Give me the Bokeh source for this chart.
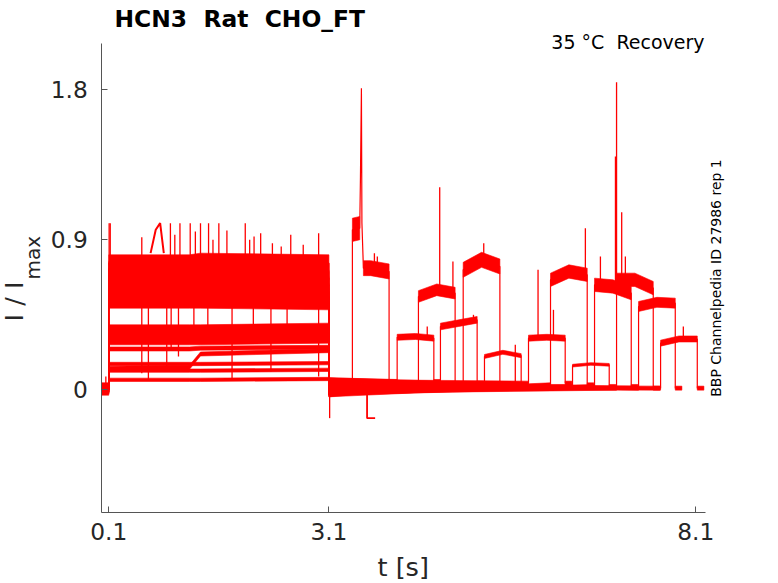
import math
from bokeh.plotting import figure
from bokeh.models import Label, Range1d, FixedTicker
from bokeh.embed import file_html
from bokeh.resources import INLINE

# ---------------- data ----------------
x_ticks = [0.1, 3.1, 8.1]
x_tick_labels = ["0.1", "3.1", "8.1"]
y_ticks = [0, 0.9, 1.8]
y_tick_labels = ["0", "0.9", "1.8"]
x_axis_span = [0.005, 8.228]
y_axis_span = [-0.738, 2.078]

# protocol times (s)
t_first = 0.005
pulse1_on = 0.1
pulse1_off = 3.1
p1_knots = [0.1, 1.2, 1.35, 3.1]
pulse2_on = [3.42, 3.72, 4.03, 4.32, 4.62, 4.93, 5.22, 5.52, 5.82, 6.12, 6.42, 6.72, 7.02, 7.32, 7.62]
pulse2_dur = 0.5
tail_dur = 0.09

# I/Imax levels per sweep
base0 = [0.00, 0.01, -0.01, 0.02, 0.00, -0.02, 0.01, 0.03, 0.00, 0.01, -0.01, 0.02, 0.00, 0.01, 0.02]
p1_a = [0.76, 0.72, 0.36, 0.68, 0.33, 0.64, 0.245, 0.115, 0.30, 0.60, 0.155, 0.57, 0.54, 0.13, 0.06]
p1_b = [0.76, 0.72, 0.36, 0.68, 0.33, 0.64, 0.245, 0.115, 0.30, 0.60, 0.155, 0.57, 0.54, 0.135, 0.06]
p1_c = [0.77, 0.72, 0.36, 0.68, 0.34, 0.64, 0.25, 0.115, 0.30, 0.60, 0.155, 0.57, 0.54, 0.215, 0.06]
p1_d = [0.76, 0.71, 0.37, 0.67, 0.34, 0.63, 0.255, 0.12, 0.31, 0.59, 0.16, 0.56, 0.53, 0.235, 0.065]
noise1 = [0.05, 0.05, 0.03, 0.05, 0.03, 0.05, 0.012, 0.01, 0.03, 0.05, 0.01, 0.05, 0.05, 0.012, 0.01]
b1_start = [-0.03, -0.02, 0.06, -0.03, 0.06, -0.02, 0.02, 0.01, 0.05, -0.03, 0.02, -0.02, -0.01, 0.03, 0.02]
b1_end = [0.00, 0.02, 0.05, 0.02, 0.04, 0.03, 0.03, 0.02, 0.04, 0.03, 0.02, 0.02, 0.01, 0.01, 0.01]
p2_a = [0.96, 0.02, 0.315, 0.56, 0.38, 0.72, 0.20, 0.02, 0.31, 0.66, 0.145, 0.63, 0.66, 0.50, 0.28]
p2_b = [0.73, 0.02, 0.32, 0.60, 0.40, 0.78, 0.225, 0.02, 0.315, 0.71, 0.155, 0.62, 0.66, 0.525, 0.305]
p2_c = [0.71, 0.02, 0.31, 0.58, 0.42, 0.74, 0.205, 0.02, 0.31, 0.69, 0.15, 0.58, 0.61, 0.52, 0.305]
noise2 = [0.045, 0.012, 0.018, 0.035, 0.02, 0.045, 0.012, 0.012, 0.018, 0.04, 0.008, 0.04, 0.04, 0.03, 0.018]
noise_base = 0.012

# onset transient of the first recovery sweep
s0_t = [3.42, 3.52, 3.53, 3.543, 3.55, 3.57]
s0_v = [0.96, 0.97, 1.28, 1.81, 1.00, 0.73]
s0_noise = 0.07

# arch during first pulse
arch_t = [0.67, 0.74, 0.80, 0.85]
arch_v = [0.82, 0.96, 1.00, 0.82]

# short negative artefact
drop_t = [3.62, 3.62, 3.73]
drop_v = [0.02, -0.17, -0.17]

# brief spikes: time, low end, high end
spike_t = [0.105, 0.12, 0.55, 0.94, 1.0, 1.07, 1.21, 1.28, 1.35, 1.46, 1.52, 1.60, 1.71, 1.96, 2.02,
           2.08, 2.17, 2.33, 2.45, 2.58, 2.75, 2.96,
           0.55, 0.64, 0.89, 0.95, 1.05, 1.26, 1.45, 1.78, 2.07, 2.31, 2.53, 2.96,
           0.06, 3.11,
           3.72, 3.76, 4.44, 4.61, 4.79, 5.07, 5.21, 5.64, 5.95, 6.16, 6.595, 6.80, 7.005, 7.02,
           7.09, 7.14, 7.93]
spike_lo = [0.75, 0.70, 0.80, 0.80, 0.80, 0.80, 0.80, 0.80, 0.80, 0.80, 0.80, 0.80, 0.80, 0.80, 0.80,
            0.80, 0.80, 0.80, 0.80, 0.80, 0.80, 0.80,
            0.10, 0.06, 0.12, 0.25, 0.20, 0.28, 0.30, 0.06, 0.30, 0.11, 0.30, 0.08,
            0.00, -0.17,
            0.73, 0.73, 0.32, 0.60, 0.60, 0.42, 0.80, 0.02, 0.31, 0.31, 0.70, 0.64, 0.60, 0.66,
            0.66, 0.66, 0.31]
spike_hi = [1.00, 1.00, 0.915, 1.00, 0.93, 1.00, 1.00, 0.95, 1.00, 1.00, 0.90, 1.00, 0.956, 1.00, 0.90,
            0.92, 0.94, 0.88, 0.86, 0.93, 0.87, 0.94,
            0.55, 0.55, 0.55, 0.55, 0.55, 0.50, 0.50, 0.55, 0.50, 0.55, 0.50, 0.55,
            0.08, 0.00,
            0.82, 0.80, 0.38, 1.215, 0.77, 0.45, 0.88, 0.27, 0.72, 0.48, 0.97, 0.80, 1.40, 1.845,
            1.066, 0.80, 0.38]

# ---------------- layout ----------------
RED = "#ff0000"
W, H = 778, 583
# pixel placement of the axes inside the canvas
AX_L, AX_R, AX_T, AX_B = 101.3, 704.7, 43.0, 512.3
sx = (AX_R - AX_L) / (x_axis_span[1] - x_axis_span[0])
sy = (AX_B - AX_T) / (y_axis_span[1] - y_axis_span[0])
X0 = x_axis_span[0] - AX_L / sx
X1 = x_axis_span[1] + (W - AX_R) / sx
Y1 = y_axis_span[1] + AX_T / sy
Y0 = y_axis_span[0] - (H - AX_B) / sy


def X(px):
    return X0 + px / sx


def Y(py):
    return Y1 - py / sy


p = figure(width=W, height=H, min_border=0, min_border_left=0, min_border_right=0,
           min_border_top=0, min_border_bottom=0,
           x_range=Range1d(X0, X1), y_range=Range1d(Y0, Y1),
           output_backend="svg", toolbar_location=None)
if p.title is not None:
    p.title.visible = False
p.outline_line_color = None
p.xgrid.visible = False
p.ygrid.visible = False
p.background_fill_color = "white"
p.border_fill_color = "white"

for ax, ticks, labels in ((p.xaxis, x_ticks, x_tick_labels), (p.yaxis, y_ticks, y_tick_labels)):
    ax.ticker = FixedTicker(ticks=ticks)
    ax.major_label_overrides = {t: l for t, l in zip(ticks, labels)}
    ax.axis_line_color = "#555555"
    ax.major_tick_line_color = "#555555"
    ax.major_tick_in = 6
    ax.major_tick_out = 0
    ax.minor_tick_line_color = None
    ax.major_label_text_font = "DejaVu Sans"
    ax.major_label_text_font_size = "23.3px"
    ax.major_label_text_color = "#262626"
p.xaxis.fixed_location = y_axis_span[0]
p.yaxis.fixed_location = x_axis_span[0]
p.xaxis.bounds = tuple(x_axis_span)
p.yaxis.bounds = tuple(y_axis_span)
p.xaxis.major_label_standoff = 10
p.yaxis.major_label_standoff = 14

# ---------------- traces ----------------
xs_line, ys_line = [], []
band_xs, band_ys = [], []


def add_band(ts, vs, n):
    band_xs.append(list(ts) + list(ts[::-1]))
    band_ys.append([v + n for v in vs] + [v - n for v in vs[::-1]])


for i in range(len(pulse2_on)):
    on2 = pulse2_on[i]
    off2 = on2 + pulse2_dur
    end = off2 + tail_dur
    p1v = [p1_a[i], p1_b[i], p1_c[i], p1_d[i]]
    if i == 0:
        p2t = s0_t + [on2 + pulse2_dur / 2, off2]
        p2v = s0_v + [p2_b[i], p2_c[i]]
        add_band(s0_t[:2], s0_v[:2], s0_noise)
        add_band([s0_t[-1], on2 + pulse2_dur / 2, off2], [s0_v[-1], p2_b[i], p2_c[i]], noise2[i])
    else:
        p2t = [on2, on2 + pulse2_dur / 2, off2]
        p2v = [p2_a[i], p2_b[i], p2_c[i]]
        add_band(p2t, p2v, noise2[i])
    t = [t_first, pulse1_on] + p1_knots + [pulse1_off, on2] + p2t + [off2, end]
    v = [base0[i], base0[i]] + p1v + [b1_start[i], b1_end[i]] + p2v + [b1_end[i], b1_end[i]]
    xs_line.append(t)
    ys_line.append(v)
    add_band([t_first, pulse1_on], [base0[i], base0[i]], noise_base)
    add_band(p1_knots, p1v, noise1[i])
    add_band([pulse1_off, on2], [b1_start[i], b1_end[i]], noise_base)
    add_band([off2, end], [b1_end[i], b1_end[i]], noise_base)

p.patches(band_xs, band_ys, fill_color=RED, line_color=RED, line_width=0.6)
p.multi_line(xs_line, ys_line, line_color=RED, line_width=1.2)
p.line(arch_t, arch_v, line_color=RED, line_width=2)
p.line(drop_t, drop_v, line_color=RED, line_width=1.8)
p.segment(x0=spike_t, y0=spike_lo, x1=spike_t, y1=spike_hi, line_color=RED, line_width=1.3)

# ---------------- texts ----------------
NB = "\u00a0"
p.add_layout(Label(x=X(114), y=Y(18.8), text=f"HCN3{NB} Rat{NB} CHO_FT", text_font="DejaVu Sans",
                   text_font_style="bold", text_font_size="23.4px", text_color="#000000",
                   text_align="left", text_baseline="alphabetic"))
p.add_layout(Label(x=X(704), y=Y(41), text=f"35 °C{NB} Recovery", text_font="DejaVu Sans",
                   text_font_size="19px", text_color="#000000",
                   text_align="right", text_baseline="alphabetic"))
p.add_layout(Label(x=X(715), y=Y(277.5), text="BBP Channelpedia ID 27986 rep 1",
                   text_font="DejaVu Sans", text_font_size="14px", text_color="#000000",
                   angle=math.pi / 2, text_align="center", text_baseline="alphabetic"))
p.add_layout(Label(x=X(13.5), y=Y(321), text="I / I", text_font="DejaVu Sans",
                   text_font_size="25.6px", text_color="#262626", angle=math.pi / 2,
                   text_align="left", text_baseline="alphabetic"))
p.add_layout(Label(x=X(32.5), y=Y(279), text="max", text_font="DejaVu Sans",
                   text_font_size="20px", text_color="#262626", angle=math.pi / 2,
                   text_align="left", text_baseline="alphabetic"))
p.add_layout(Label(x=X(402.7), y=Y(566), text="t [s]", text_font="DejaVu Sans",
                   text_font_size="25.6px", text_color="#262626",
                   text_align="center", text_baseline="alphabetic"))

open("out.html", "w").write(file_html(p, INLINE))
